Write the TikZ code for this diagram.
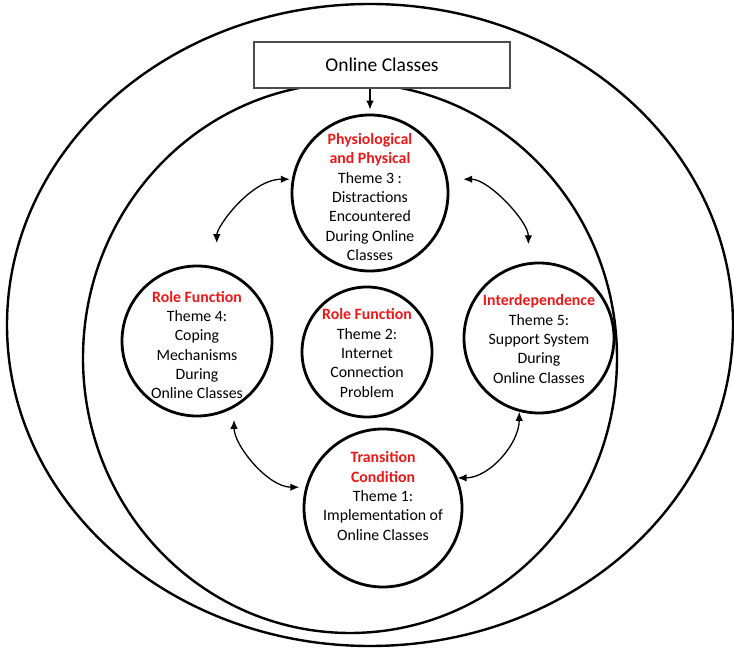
\documentclass[tikz,border=0pt]{standalone}
\usepackage{fontspec}
\setmainfont{Carlito}
\usepackage{xcolor}
\usetikzlibrary{arrows.meta}
\definecolor{headred}{RGB}{236,24,24}
\newcommand{\hd}[1]{\textcolor{headred}{\textbf{#1}}}

\begin{document}
\begin{tikzpicture}[x=1pt,y=1pt,>={Latex[length=9pt,width=7.5pt]},
  theme/.style={circle,draw,line width=2.8pt,inner sep=0pt},
  txt/.style={align=center,font=\fontsize{15.8}{19.3}\selectfont}]
  \useasboundingbox (0,0) rectangle (734,650);

  \draw[line width=2.4pt] (370,325) ellipse [x radius=363, y radius=321];
  \draw[line width=2.4pt] (350,292) ellipse [x radius=267, y radius=275];

  \node[draw=gray!60!black,line width=1.3pt,fill=white,minimum width=256,minimum height=46,font=\fontsize{19.5}{23}\selectfont] (online) at (382,585) {Online Classes};

  \node[theme,minimum size=156,label={[txt,yshift=-4]center:{\hd{Physiological}\\\hd{and Physical}\\Theme 3 :\\Distractions\\Encountered\\During Online\\Classes}}] (t3) at (370,457) {};
  \node[theme,minimum size=150,label={[txt,yshift=-4]center:{\hd{Role Function}\\Theme 4:\\Coping\\Mechanisms\\During\\Online Classes}}] (t4) at (197,309) {};
  \node[theme,minimum size=130,label={[txt,yshift=-1]center:{\hd{Role Function}\\Theme 2:\\Internet\\Connection\\Problem}}] (t2) at (367,298) {};
  \node[theme,minimum size=150,label={[txt,yshift=-1]center:{\hd{Interdependence}\\Theme 5:\\Support System\\During\\Online Classes}}] (t5) at (539,312) {};
  \node[theme,minimum size=158,label={[txt,yshift=12]center:{\hd{Transition}\\\hd{Condition}\\Theme 1:\\Implementation of\\Online Classes}}] (t1) at (383,142) {};

  \tikzset{myarrow/.style={<->,line width=1.3pt}}
  \draw[->,line width=1.3pt,shorten >=4pt] (online.south -| t3.north) -- (t3.north);
  \path (t4.75)  edge [myarrow,out=90,in=180,looseness=0.9,shorten <=24pt,shorten >=2pt] (t3.170)
        (t3.10)  edge [myarrow,out=0,in=90,looseness=0.9,shorten <=15pt,shorten >=18pt] (t5.98)
        (t4.-61) edge [myarrow,out=-90,in=180,looseness=0.9,shorten <=12pt,shorten >=6pt] (t1.165)
        (t5.-105) edge [myarrow,out=-90,in=0,looseness=0.9] (t1.22);
\end{tikzpicture}
\end{document}
